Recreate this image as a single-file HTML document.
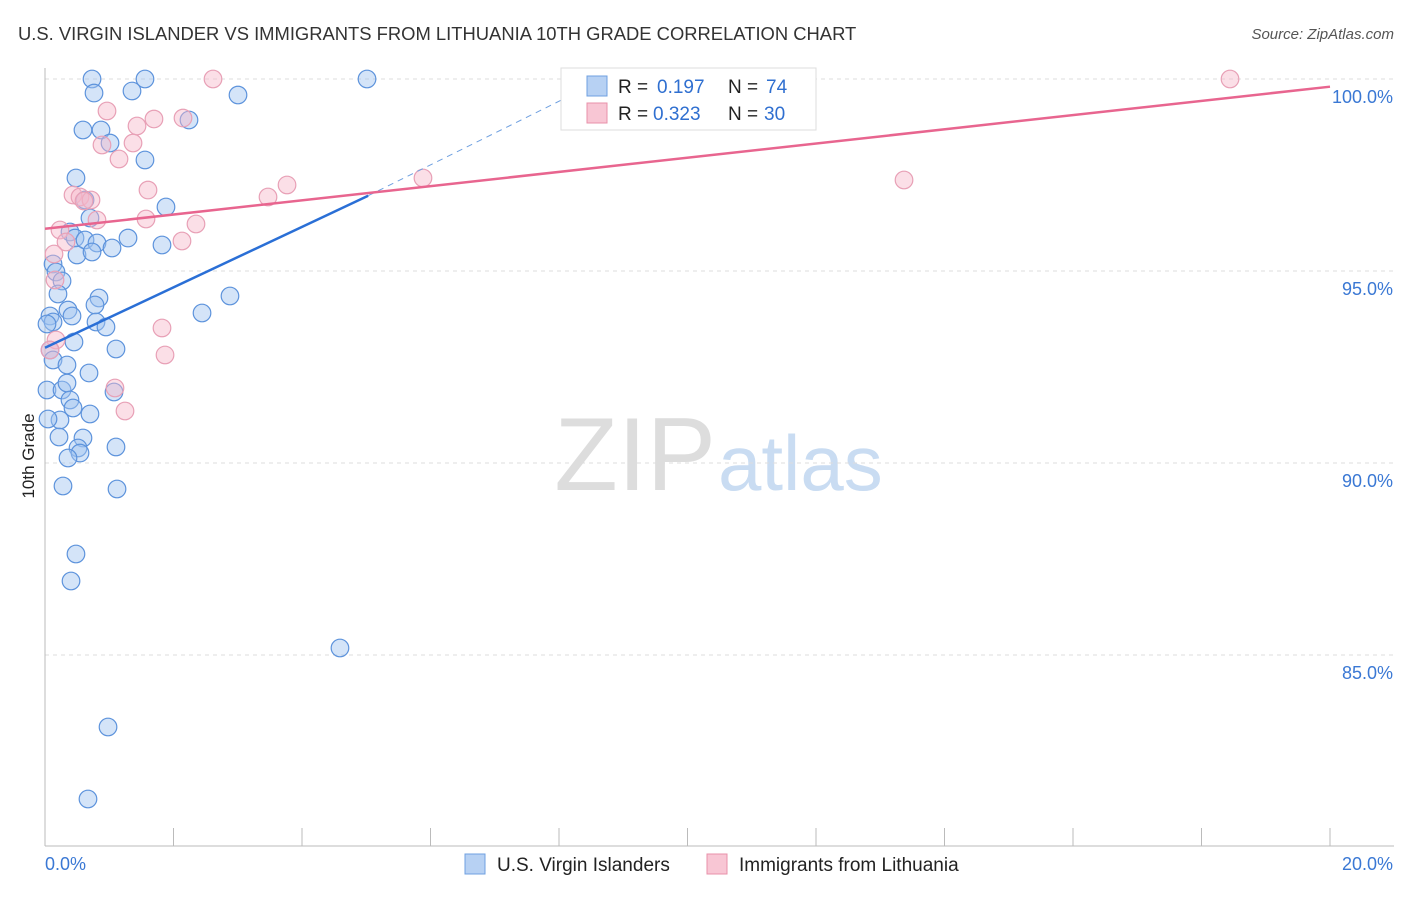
<!DOCTYPE html>
<html><head><meta charset="utf-8"><style>
body{margin:0;background:#fff;font-family:"Liberation Sans",sans-serif}
svg text{font-family:"Liberation Sans",sans-serif}
</style></head><body>
<svg width="1406" height="892" id="c">
<text x="18" y="40" font-size="18.4" fill="#333">U.S. VIRGIN ISLANDER VS IMMIGRANTS FROM LITHUANIA 10TH GRADE CORRELATION CHART</text>
<text x="1394" y="39" font-size="15" fill="#555" text-anchor="end" font-style="italic">Source: ZipAtlas.com</text>
<text x="34" y="456" font-size="17" fill="#222" transform="rotate(-90 34 456)" text-anchor="middle">10th Grade</text>
<text x="716" y="490" font-size="104" fill="#ddd" text-anchor="end" font-family="Liberation Serif">ZIP</text>
<text x="718" y="490" font-size="78" fill="#c9dcf2">atlas</text>
<g id="grid"></g><g id="pts"></g><g id="lines"></g>
<g>
<rect x="561" y="68" width="255" height="62" fill="#fff" stroke="#ddd"/>
<rect x="587" y="76" width="20" height="20" fill="#b7d1f3" stroke="#6fa0e0"/>
<text x="618" y="93" font-size="19" fill="#222">R =</text><text x="657" y="93" font-size="19" fill="#2f6fd0">0.197</text>
<text x="728" y="93" font-size="19" fill="#222">N =</text><text x="766" y="93" font-size="19" fill="#2f6fd0">74</text>
<rect x="587" y="103" width="20" height="20" fill="#f8c6d4" stroke="#e890aa"/>
<text x="618" y="120" font-size="19" fill="#222">R =</text><text x="653" y="120" font-size="19" fill="#2f6fd0">0.323</text>
<text x="728" y="120" font-size="19" fill="#222">N =</text><text x="764" y="120" font-size="19" fill="#2f6fd0">30</text>
</g>
<g>
<rect x="465" y="854" width="20" height="20" fill="#b7d1f3" stroke="#6fa0e0"/>
<text x="497" y="871" font-size="19" fill="#222">U.S. Virgin Islanders</text>
<rect x="707" y="854" width="20" height="20" fill="#f8c6d4" stroke="#e890aa"/>
<text x="739" y="871" font-size="19" fill="#222">Immigrants from Lithuania</text>
</g>
</svg>
<script>
const yTicks=[100,95,90,85];
const yTickLabels=["100.0%","95.0%","90.0%","85.0%"];
const xTickLabels=["0.0%","20.0%"];
const bluePx=[[92,79],[145,79],[367,79],[94,93],[132,91],[238,95],[83,130],[101,130],[110,143],[189,120],[145,160],[76,178],[166,207],[85,200],[90,218],[70,232],[75,238],[85,240],[97,243],[112,248],[128,238],[162,245],[77,255],[92,252],[53,264],[56,272],[62,281],[58,294],[99,298],[95,305],[68,310],[72,316],[50,316],[53,322],[47,324],[96,322],[106,327],[230,296],[202,313],[74,342],[116,349],[50,350],[53,360],[67,365],[89,373],[47,390],[62,390],[67,383],[70,400],[73,408],[90,414],[60,420],[48,419],[59,437],[83,438],[78,448],[80,453],[68,458],[116,447],[63,486],[117,489],[76,554],[71,581],[340,648],[108,727],[88,799],[114,392]];
const pinkPx=[[213,79],[107,111],[154,119],[183,118],[137,126],[102,145],[133,143],[119,159],[148,190],[287,185],[268,197],[423,178],[904,180],[1230,79],[73,195],[80,197],[91,200],[84,201],[97,220],[146,219],[196,224],[182,241],[60,230],[66,242],[54,254],[55,280],[162,328],[165,355],[115,388],[125,411],[56,340],[50,350]];
const px2x=p=>(p-45)/64.25, px2y=p=>100-(p-79)/38.4;
const blueX=bluePx.map(p=>+px2x(p[0]).toFixed(3)), blueY=bluePx.map(p=>+px2y(p[1]).toFixed(3));
const pinkX=pinkPx.map(p=>+px2x(p[0]).toFixed(3)), pinkY=pinkPx.map(p=>+px2y(p[1]).toFixed(3));
const blueTrend=[[0,93.0],[5.03,96.96]];
const pinkTrend=[[0,96.1],[20,99.8]];
const X=v=>45+v*64.25, Y=v=>79+(100-v)*38.4;
const NS="http://www.w3.org/2000/svg";
function mk(t,a,par){const e=document.createElementNS(NS,t);for(const k in a)e.setAttribute(k,a[k]);document.getElementById(par).appendChild(e);return e;}
yTicks.forEach((t,i)=>{
 const l=mk('line',{x1:45,x2:1394,y1:Y(t),y2:Y(t),stroke:'#ddd','stroke-dasharray':'4,4'},'grid');
 
 
 const tx=mk('text',{x:1393,y:Y(t)+24,'font-size':18,fill:'#3a78d4','text-anchor':'end'},'grid');tx.textContent=yTickLabels[i];
 
 
});
mk('line',{x1:45,x2:45,y1:68,y2:846,stroke:'#bbb'},'grid');
mk('line',{x1:45,x2:1394,y1:846,y2:846,stroke:'#bbb'},'grid');
for(let i=0;i<=10;i++){mk('line',{x1:X(i*2),x2:X(i*2),y1:828,y2:846,stroke:'#bbb'},'grid');}
[[0,45,'start'],[20,1393,'end']].forEach((d,i)=>{const t=mk('text',{x:d[1],y:870,'font-size':18,fill:'#3a78d4','text-anchor':d[2]},'grid');t.textContent=xTickLabels[i];
 
 });
blueX.forEach((x,i)=>{const c=mk('circle',{cx:X(x),cy:Y(blueY[i]),r:8.8,fill:'rgba(160,196,240,0.45)',stroke:'#5d93dc','stroke-width':1.2},'pts');
 
 });
pinkX.forEach((x,i)=>{const c=mk('circle',{cx:X(x),cy:Y(pinkY[i]),r:8.8,fill:'rgba(246,184,202,0.45)',stroke:'#e8a0b6','stroke-width':1.2},'pts');
 
 });
const b=mk('line',{x1:X(blueTrend[0][0]),y1:Y(blueTrend[0][1]),x2:X(blueTrend[1][0]),y2:Y(blueTrend[1][1]),stroke:'#2a6fd6','stroke-width':2.5},'lines');


const bd=mk('line',{x1:X(blueTrend[1][0]),y1:Y(blueTrend[1][1]),x2:X(8.7),y2:Y(100),stroke:'#6fa0e0','stroke-width':1,'stroke-dasharray':'6,5'},'lines');


const p=mk('line',{x1:X(pinkTrend[0][0]),y1:Y(pinkTrend[0][1]),x2:X(pinkTrend[1][0]),y2:Y(pinkTrend[1][1]),stroke:'#e8658f','stroke-width':2.5},'lines');


</script>
</body></html>
